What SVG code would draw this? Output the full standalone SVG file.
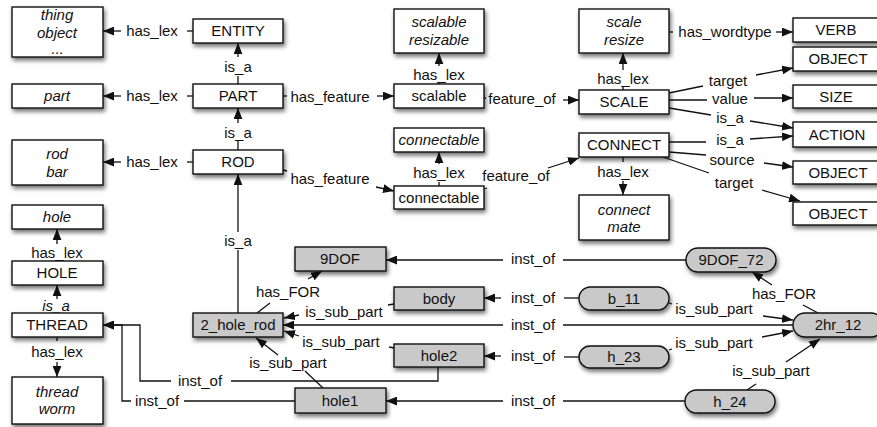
<svg xmlns="http://www.w3.org/2000/svg" width="877" height="427" viewBox="0 0 877 427">
<style>
text{font-family:"Liberation Sans",Arial,sans-serif;font-size:15px;fill:#111;text-anchor:middle}
.it{font-style:italic}
.box{fill:#fff;stroke:#111;stroke-width:1.4;filter:url(#sh)}
.inst{fill:#c9c9c9;stroke:#111;stroke-width:1.4;filter:url(#sh)}
.c{fill:none;stroke:#111;stroke-width:1.3}
.a{marker-end:url(#ah)}
</style>
<defs>
<filter id="sh" x="-20%" y="-30%" width="150%" height="180%">
<feDropShadow dx="1.5" dy="3" stdDeviation="2.2" flood-color="#000" flood-opacity="0.55"/>
</filter>
<marker id="ah" viewBox="0 0 10 8" refX="10" refY="4" markerWidth="11" markerHeight="9" markerUnits="userSpaceOnUse" orient="auto">
<path d="M0,0 L10,4 L0,8 z" fill="#111"/>
</marker>
</defs>

<g id="connectors">
<!-- has_lex left -->
<path class="c" d="M193,31 H187"/><path class="c a" d="M121,31 H103"/>
<text x="152" y="36">has_lex</text>
<path class="c" d="M193,96 H187"/><path class="c a" d="M121,96 H103"/>
<text x="152" y="101">has_lex</text>
<path class="c" d="M193,162 H187"/><path class="c a" d="M121,162 H103"/>
<text x="152" y="167">has_lex</text>
<!-- is_a vertical -->
<path class="c" d="M238,84 V76"/><path class="c a" d="M238,57 V43"/>
<text x="238" y="72">is_a</text>
<path class="c" d="M238,150 V141"/><path class="c a" d="M238,123 V108"/>
<text x="238" y="138">is_a</text>
<path class="c" d="M238,313 V250"/><path class="c a" d="M238,232 V174"/>
<text x="238" y="246">is_a</text>
<!-- has_feature -->
<path class="c" d="M283,96 H287"/><path class="c a" d="M377,96 H394"/>
<text x="330" y="102">has_feature</text>
<path class="c" d="M283,170 L287,171"/><path class="c a" d="M376,187 L394,191"/>
<text x="330" y="184">has_feature</text>
<!-- has_lex middle -->
<path class="c" d="M439,84 V82"/><path class="c a" d="M439,66 V53"/>
<text x="439" y="80">has_lex</text>
<path class="c" d="M439,186 V182"/><path class="c a" d="M439,164 V152"/>
<text x="439" y="178">has_lex</text>
<!-- feature_of -->
<path class="c" d="M484,98 H486"/><path class="c a" d="M563,100 H579"/>
<text x="522" y="104">feature_of</text>
<path class="c" d="M484,189 L487,188"/><path class="c a" d="M548,168 L579,158"/>
<text x="516" y="181">feature_of</text>
<!-- has_lex right -->
<path class="c" d="M623,90 V86"/><path class="c a" d="M623,70 V53"/>
<text x="623" y="84">has_lex</text>
<path class="c" d="M623,157 V162"/><path class="c a" d="M623,181 V195"/>
<text x="623" y="177">has_lex</text>
<!-- has_wordtype -->
<path class="c" d="M669,32 H673"/><path class="c a" d="M776,32 H793"/>
<text x="725" y="37">has_wordtype</text>
<!-- SCALE relations -->
<path class="c" d="M669,93 L703,86"/><path class="c a" d="M756,75 L793,68"/>
<text x="728" y="86">target</text>
<path class="c" d="M669,100 H707"/><path class="c a" d="M754,98 H793"/>
<text x="730" y="104">value</text>
<path class="c" d="M669,108 L711,115"/><path class="c a" d="M750,121 L793,128"/>
<text x="730" y="123">is_a</text>
<!-- CONNECT relations -->
<path class="c" d="M669,142 H706"/><path class="c a" d="M750,139 L793,136"/>
<text x="730" y="145">is_a</text>
<path class="c" d="M669,152 L706,155"/><path class="c a" d="M764,163 L793,167"/>
<text x="732" y="165">source</text>
<path class="c" d="M663,157 L709,173"/><path class="c a" d="M762,190 L800,201"/>
<text x="734" y="188">target</text>
<!-- left column verticals -->
<path class="c a" d="M57,244 V229"/>
<text x="57" y="258">has_lex</text>
<path class="c a" d="M57,299 V285"/>
<text class="it" x="56" y="311">is_a</text>
<path class="c" d="M57,337 V341"/><path class="c a" d="M57,362 V377"/>
<text x="57" y="357">has_lex</text>
<!-- inst_of to THREAD -->
<path class="c" d="M295,401 H184"/><path class="c a" d="M131,401 H122 V325 H103"/>
<text x="157" y="406">inst_of</text>
<path class="c" d="M438,367 V381 H231"/><path class="c a" d="M171,381 H140 V325 H103"/>
<text x="200" y="386">inst_of</text>
<!-- inst_of middle -->
<path class="c" d="M686,260 H563"/><path class="c a" d="M503,260 H386"/>
<text x="533" y="264">inst_of</text>
<path class="c" d="M579,298 H564"/><path class="c a" d="M501,298 H484"/>
<text x="533" y="303">inst_of</text>
<path class="c" d="M793,325 H563"/><path class="c a" d="M503,325 H283"/>
<text x="533" y="330">inst_of</text>
<path class="c" d="M579,357 H564"/><path class="c a" d="M501,356 H484"/>
<text x="533" y="361">inst_of</text>
<path class="c" d="M685,401 H563"/><path class="c a" d="M503,401 H386"/>
<text x="533" y="406">inst_of</text>
<!-- is_sub_part to 2_hole_rod -->
<path class="c" d="M394,304 L388,305"/><path class="c a" d="M299,315 L284,318"/>
<text x="344" y="317">is_sub_part</text>
<path class="c" d="M394,348 L389,347"/><path class="c a" d="M299,336 L284,331"/>
<text x="341" y="347">is_sub_part</text>
<path class="c" d="M323,388 L305,371"/><path class="c a" d="M278,355 L256,338"/>
<text x="288" y="368">is_sub_part</text>
<!-- has_FOR -->
<path class="c" d="M257,313 L270,303"/><path class="c a" d="M308,279 L322,271"/>
<text x="288" y="297">has_FOR</text>
<path class="c" d="M818,313 L803,305"/><path class="c a" d="M772,285 L752,272"/>
<text x="784" y="299">has_FOR</text>
<!-- is_sub_part to 2hr_12 -->
<path class="c" d="M669,303 L672,304"/><path class="c a" d="M763,316 L793,320"/>
<text x="714" y="314">is_sub_part</text>
<path class="c" d="M669,350 L672,349"/><path class="c a" d="M762,337 L793,331"/>
<text x="714" y="348">is_sub_part</text>
<path class="c" d="M747,390 L756,384"/><path class="c a" d="M786,362 L820,339"/>
<text x="771" y="376">is_sub_part</text>
</g>

<g id="lex_entity"><rect class="box" x="12" y="7" width="91" height="50"/><text class="it" x="57" y="20">thing</text><text class="it" x="57" y="38">object</text><text x="57" y="54">...</text></g>
<g id="lex_part"><rect class="box" x="12" y="84" width="91" height="24"/><text class="it" x="57" y="101">part</text></g>
<g id="lex_rod"><rect class="box" x="12" y="140" width="91" height="45"/><text class="it" x="57" y="159">rod</text><text class="it" x="57" y="177">bar</text></g>
<g id="lex_hole"><rect class="box" x="12" y="205" width="91" height="24"/><text class="it" x="57" y="222">hole</text></g>
<g id="HOLE"><rect class="box" x="12" y="261" width="91" height="24"/><text x="57" y="278">HOLE</text></g>
<g id="THREAD"><rect class="box" x="12" y="313" width="91" height="24"/><text x="57" y="330">THREAD</text></g>
<g id="lex_thread"><rect class="box" x="12" y="377" width="91" height="47"/><text class="it" x="57" y="397">thread</text><text class="it" x="57" y="414">worm</text></g>

<g id="ENTITY"><rect class="box" x="193" y="19" width="90" height="24"/><text x="238" y="36">ENTITY</text></g>
<g id="PART"><rect class="box" x="193" y="84" width="90" height="24"/><text x="238" y="101">PART</text></g>
<g id="ROD"><rect class="box" x="193" y="150" width="90" height="24"/><text x="238" y="167">ROD</text></g>

<g id="lex_scalable"><rect class="box" x="394" y="9" width="90" height="44"/><text class="it" x="439" y="27">scalable</text><text class="it" x="439" y="45">resizable</text></g>
<g id="scalable"><rect class="box" x="394" y="84" width="90" height="24"/><text x="439" y="101">scalable</text></g>
<g id="lex_connectable"><rect class="box" x="394" y="128" width="90" height="24"/><text class="it" x="439" y="145">connectable</text></g>
<g id="connectable"><rect class="box" x="394" y="186" width="90" height="23"/><text x="439" y="203">connectable</text></g>

<g id="lex_scale"><rect class="box" x="579" y="9" width="90" height="44"/><text class="it" x="624" y="27">scale</text><text class="it" x="624" y="45">resize</text></g>
<g id="SCALE"><rect class="box" x="579" y="90" width="90" height="24"/><text x="624" y="107">SCALE</text></g>
<g id="CONNECT"><rect class="box" x="579" y="133" width="90" height="24"/><text x="624" y="150">CONNECT</text></g>
<g id="lex_connect"><rect class="box" x="579" y="195" width="90" height="45"/><text class="it" x="624" y="215">connect</text><text class="it" x="624" y="232">mate</text></g>

<g id="VERB"><rect class="box" x="793" y="18" width="90" height="24"/><text x="836" y="35">VERB</text></g>
<g id="OBJECT1"><rect class="box" x="793" y="47" width="90" height="24"/><text x="838" y="64">OBJECT</text></g>
<g id="SIZE"><rect class="box" x="793" y="85" width="90" height="23"/><text x="836" y="102">SIZE</text></g>
<g id="ACTION"><rect class="box" x="793" y="122" width="90" height="25"/><text x="837" y="140">ACTION</text></g>
<g id="OBJECT2"><rect class="box" x="793" y="161" width="90" height="23"/><text x="838" y="178">OBJECT</text></g>
<g id="OBJECT3"><rect class="box" x="793" y="202" width="90" height="23"/><text x="838" y="219">OBJECT</text></g>

<g id="n9DOF"><rect class="inst" x="295" y="247" width="91" height="24"/><text x="340" y="264">9DOF</text></g>
<g id="body"><rect class="inst" x="394" y="287" width="90" height="23"/><text x="439" y="304">body</text></g>
<g id="n2_hole_rod"><rect class="inst" x="193" y="313" width="90" height="24"/><text x="238" y="330">2_hole_rod</text></g>
<g id="hole2"><rect class="inst" x="394" y="344" width="90" height="23"/><text x="439" y="361">hole2</text></g>
<g id="hole1"><rect class="inst" x="295" y="388" width="91" height="25"/><text x="340" y="406">hole1</text></g>

<g id="n9DOF_72"><rect class="inst" x="686" y="248" width="90" height="24" rx="12"/><text x="731" y="265">9DOF_72</text></g>
<g id="b_11"><rect class="inst" x="579" y="287" width="90" height="23" rx="11.5"/><text x="624" y="304">b_11</text></g>
<g id="n2hr_12"><rect class="inst" x="793" y="313" width="90" height="24" rx="12"/><text x="838" y="330">2hr_12</text></g>
<g id="h_23"><rect class="inst" x="579" y="346" width="90" height="22" rx="11"/><text x="624" y="362">h_23</text></g>
<g id="h_24"><rect class="inst" x="685" y="390" width="90" height="23" rx="11.5"/><text x="730" y="407">h_24</text></g>
</svg>
